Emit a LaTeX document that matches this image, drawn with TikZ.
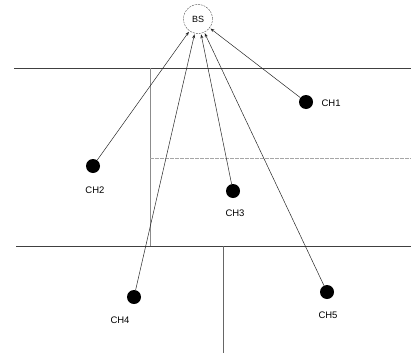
\documentclass[tikz,border=0pt]{standalone}
\usepackage{fontspec}
\setmainfont{Liberation Sans}
\usetikzlibrary{arrows.meta}
\begin{document}
\begin{tikzpicture}[x=1pt,y=-1pt,
  wall/.style={draw=black!75, line width=0.6pt},
  lightwall/.style={draw=black!35, line width=0.5pt, dash pattern=on 4pt off 1pt},
  ch/.style={circle, fill=black, inner sep=0pt, minimum size=14pt},
  lbl/.style={font=\fontsize{9.5}{11}\selectfont},
  link/.style={draw=black!85, line width=0.5pt, -{Stealth[length=4pt,width=3pt]}, shorten >=1pt}]
\useasboundingbox (0,0) rectangle (411,353);
% walls
\coordinate (w1a) at (14,68); \coordinate (w1b) at (411,68);
\coordinate (w2a) at (150,68); \coordinate (w2b) at (150,246);
\coordinate (w3a) at (150,158); \coordinate (w3b) at (411,158);
\coordinate (w4a) at (16,246); \coordinate (w4b) at (411,246);
\coordinate (w5a) at (223,246); \coordinate (w5b) at (223,353);
\draw[wall] (w1a) -- (w1b);
\draw[wall, draw=black!45] (w2a) -- (w2b);
\draw[lightwall] (w3a) -- (w3b);
\draw[wall] (w4a) -- (w4b);
\draw[wall, draw=black!60] (w5a) -- (w5b);
% base station
\node[circle, draw=black!70, dashed, dash pattern=on 2pt off 1pt, minimum size=29pt, inner sep=0pt, font=\fontsize{9}{10}\selectfont] (bs) at (198,19) {BS};
% cluster heads
\node[ch] (ch1) at (306,102) {};
\node[ch] (ch2) at (93,166) {};
\node[ch] (ch3) at (233,191) {};
\node[ch] (ch4) at (134,297) {};
\node[ch] (ch5) at (327,292) {};
\node[lbl, anchor=west] (l1) at (318,103) {CH1};
\node[lbl] (l2) at (95,190) {CH2};
\node[lbl] (l3) at (235,213) {CH3};
\node[lbl] (l4) at (120,320) {CH4};
\node[lbl] (l5) at (328,315) {CH5};
% links
\draw[link] (ch1) -- (bs);
\draw[link] (ch2) -- (bs);
\draw[link] (ch3) -- (bs);
\draw[link] (ch4) -- (bs);
\draw[link] (ch5) -- (bs);
\end{tikzpicture}
\end{document}
